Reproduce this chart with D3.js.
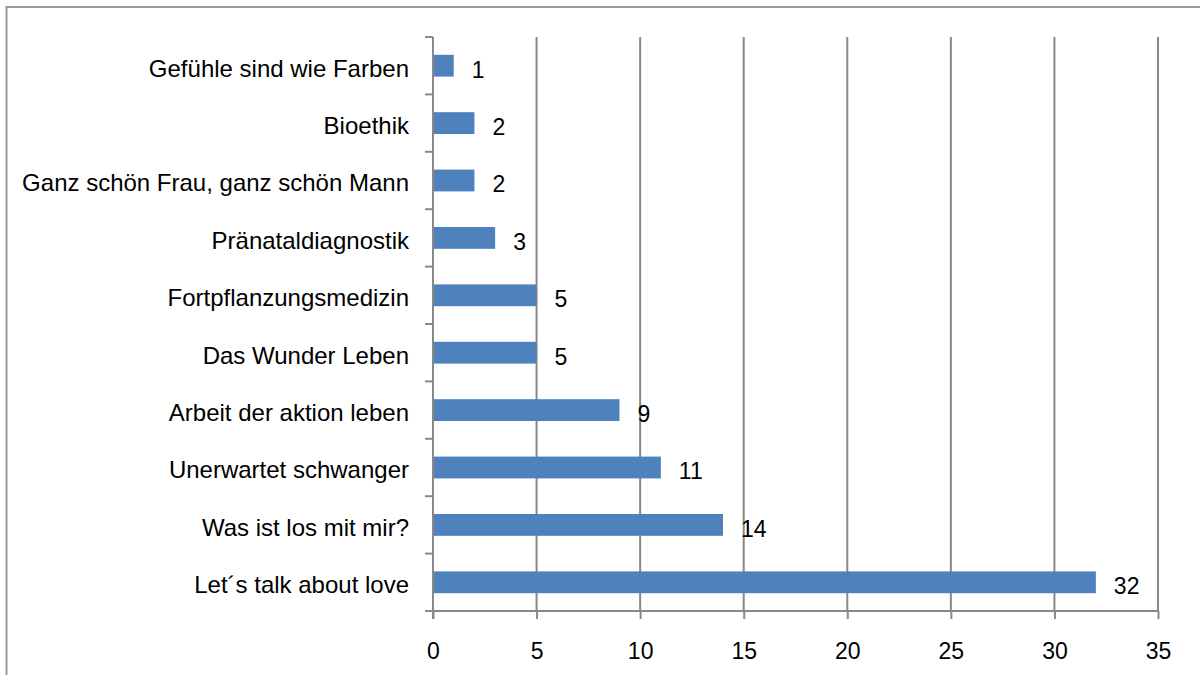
<!DOCTYPE html>
<html>
<head>
<meta charset="utf-8">
<script src="https://cdn.jsdelivr.net/npm/d3@7"></script>
<style>
  body { margin: 0; background: #fff; }
  svg { display: block; font-family: "Liberation Sans", Arial, sans-serif; }
</style>
</head>
<body>
<svg id="chart" width="1200" height="675"></svg>
<script>
// categories top to bottom and their counts
const categories = [
  "Gefühle sind wie Farben",
  "Bioethik",
  "Ganz schön Frau, ganz schön Mann",
  "Pränataldiagnostik",
  "Fortpflanzungsmedizin",
  "Das Wunder Leben",
  "Arbeit der aktion leben",
  "Unerwartet schwanger",
  "Was ist los mit mir?",
  "Let´s talk about love"
];
const counts = [1, 2, 2, 3, 5, 5, 9, 11, 14, 32];
const xTicks = [0, 5, 10, 15, 20, 25, 30, 35];

const data = categories.map((c, i) => ({ cat: c, val: counts[i] }));

const svg = d3.select("#chart");

// outer chart border (right/bottom run off the canvas)
svg.append("rect")
  .attr("x", 6.5).attr("y", 7)
  .attr("width", 1210).attr("height", 700)
  .attr("fill", "none")
  .attr("stroke", "#9a9a9a")
  .attr("stroke-width", 2);

const plot = { left: 433, right: 1158, top: 37, bottom: 611 };

const x = d3.scaleLinear().domain([0, 35]).range([plot.left, plot.right]);
const y = d3.scaleBand()
  .domain(categories)
  .range([plot.top, plot.bottom])
  .paddingInner(0.62)
  .paddingOuter(0.31);

const axisColor = "#888";

// vertical gridlines
svg.append("g")
  .selectAll("line")
  .data(xTicks.filter(d => d > 0))
  .join("line")
  .attr("x1", d => x(d)).attr("x2", d => x(d))
  .attr("y1", plot.top).attr("y2", plot.bottom)
  .attr("stroke", axisColor)
  .attr("stroke-width", 2);

// bars
svg.append("g")
  .selectAll("rect")
  .data(data)
  .join("rect")
  .attr("x", x(0))
  .attr("y", d => y(d.cat))
  .attr("width", d => x(d.val) - x(0))
  .attr("height", y.bandwidth())
  .attr("fill", "#4f81bd");

// left axis line + ticks at band edges
const step = y.step();
const edges = d3.range(categories.length + 1).map(i => plot.top + i * step);
svg.append("line")
  .attr("x1", plot.left).attr("x2", plot.left)
  .attr("y1", plot.top).attr("y2", plot.bottom + 8)
  .attr("stroke", axisColor).attr("stroke-width", 2);
svg.append("g")
  .selectAll("line")
  .data(edges)
  .join("line")
  .attr("x1", plot.left - 8).attr("x2", plot.left)
  .attr("y1", d => d).attr("y2", d => d)
  .attr("stroke", axisColor).attr("stroke-width", 2);

// bottom axis
const xAxis = svg.append("g")
  .attr("transform", `translate(0,${plot.bottom})`)
  .call(d3.axisBottom(x).tickValues(xTicks).tickSize(8).tickPadding(24));
xAxis.select(".domain").attr("stroke", axisColor).attr("stroke-width", 2)
  .attr("d", `M${plot.left},0H${plot.right}`);
xAxis.selectAll(".tick line").attr("stroke", axisColor).attr("stroke-width", 2);
xAxis.selectAll(".tick text")
  .attr("fill", "#000")
  .style("font-family", "Liberation Sans, Arial, sans-serif")
  .style("font-size", "23px");

// category labels
svg.append("g")
  .selectAll("text")
  .data(data)
  .join("text")
  .attr("x", 409)
  .attr("y", d => y(d.cat) + y.bandwidth() / 2)
  .attr("dy", "0.45em")
  .attr("text-anchor", "end")
  .style("font-size", "24px")
  .attr("fill", "#000")
  .text(d => d.cat);

// value labels
svg.append("g")
  .selectAll("text")
  .data(data)
  .join("text")
  .attr("x", d => x(d.val) + 18)
  .attr("y", d => y(d.cat) + y.bandwidth() / 2)
  .attr("dy", "0.52em")
  .style("font-size", "23px")
  .attr("fill", "#000")
  .text(d => d.val);
</script>
</body>
</html>
